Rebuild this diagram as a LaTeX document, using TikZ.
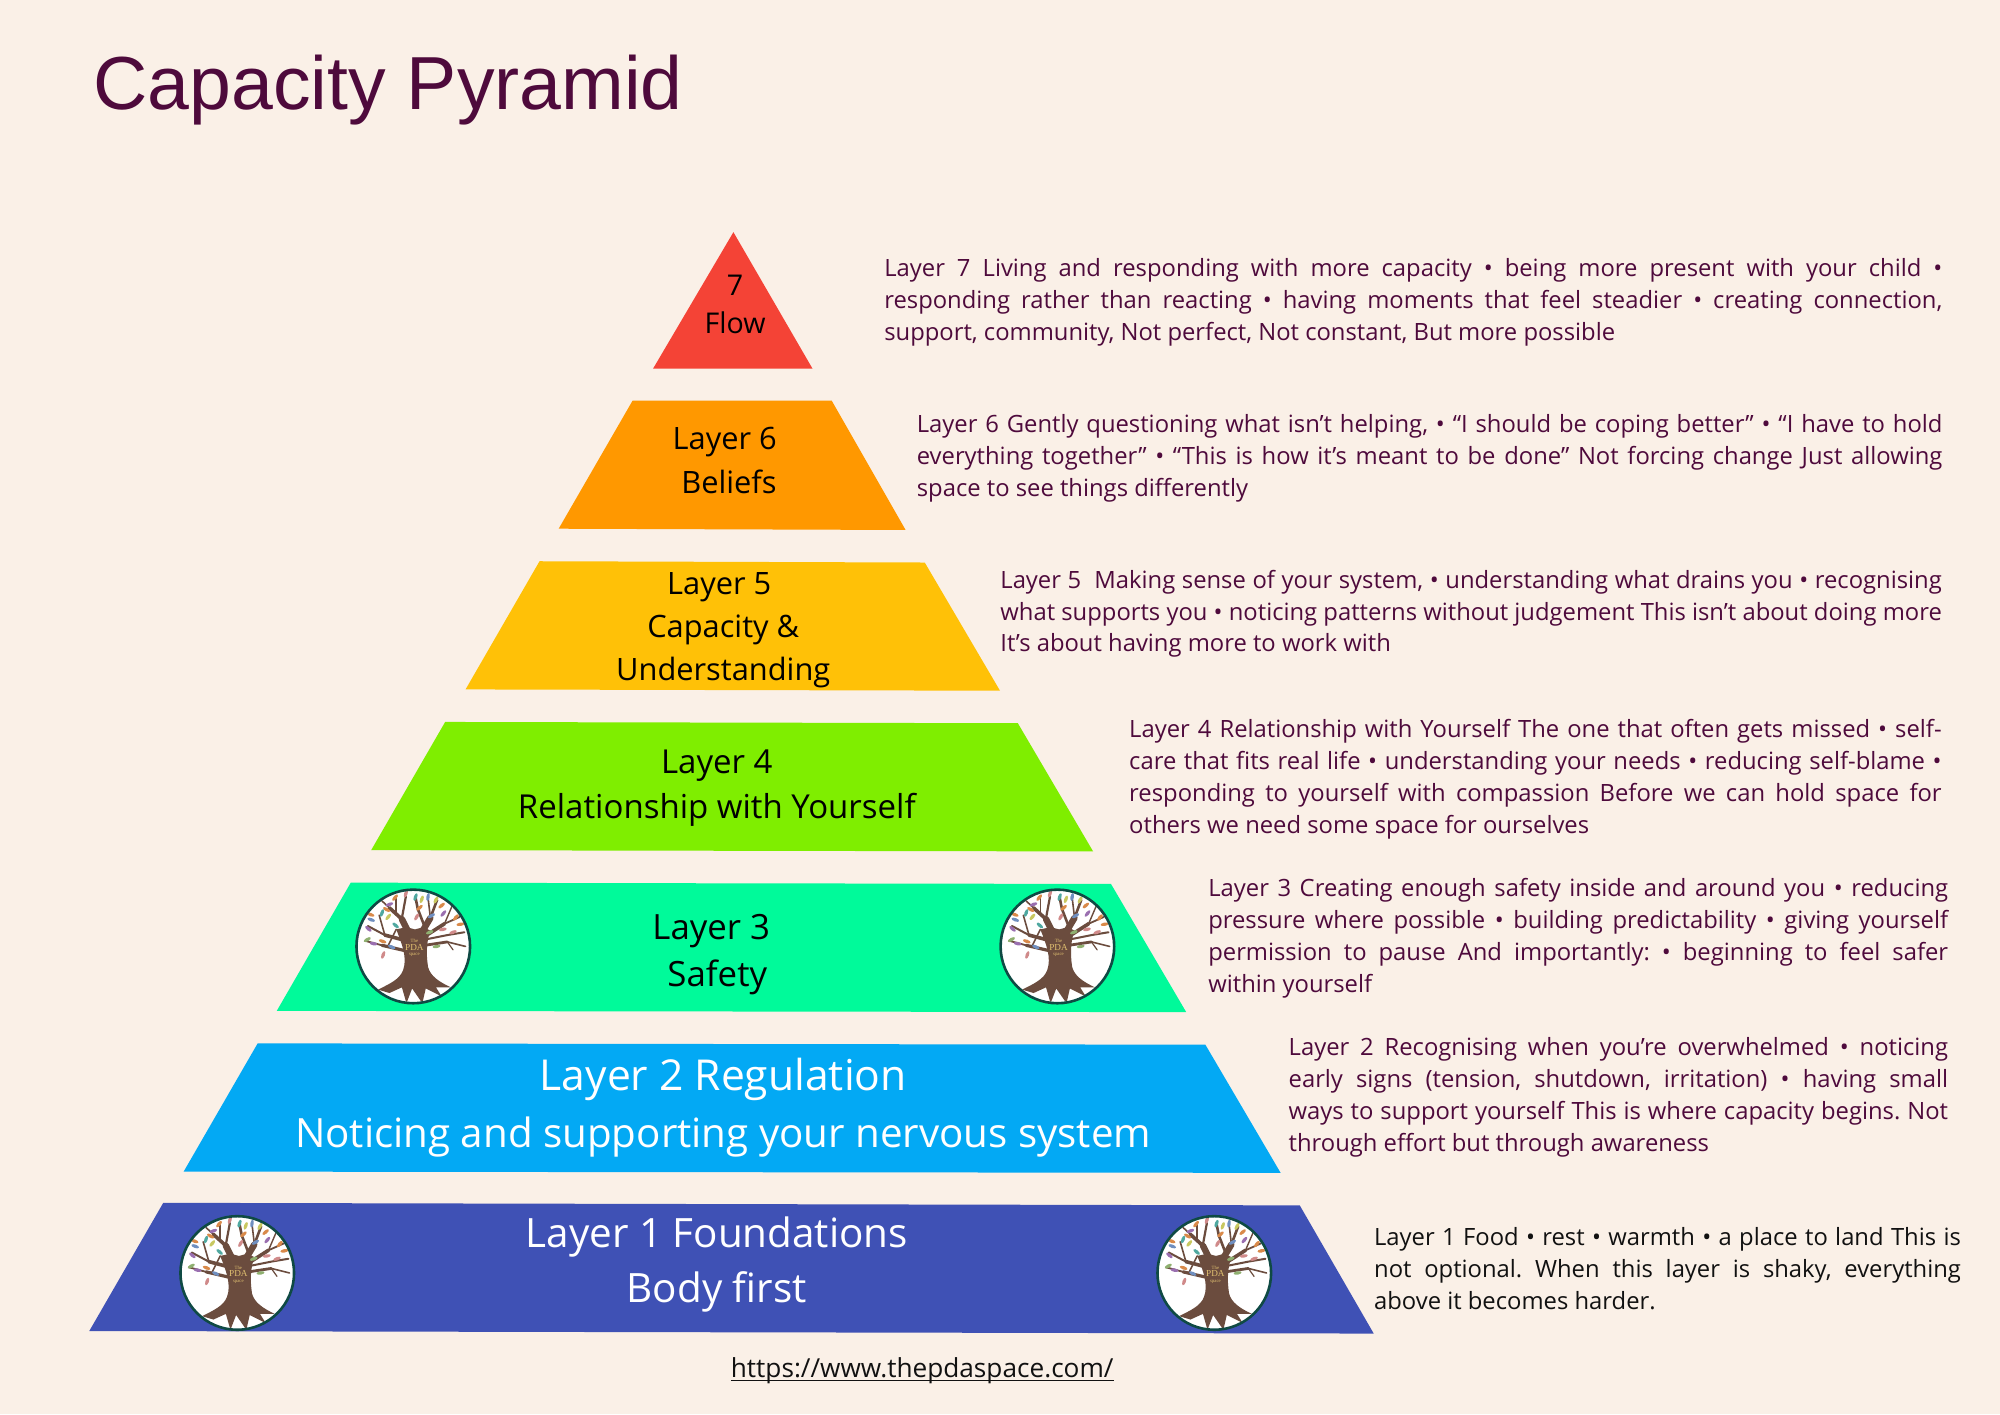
\documentclass[tikz,border=0pt]{standalone}
\usepackage{fontspec}
\setmainfont{Open Sans}
\newfontfamily\titlefont{Liberation Sans}
\newfontfamily\logofont{Liberation Serif}
\usepackage{xcolor}
\definecolor{bgcream}{HTML}{FAF0E7}
\definecolor{plum}{HTML}{4E0A3C}
\definecolor{inkdark}{HTML}{111111}
\definecolor{bark}{HTML}{6B4C3E}
\definecolor{ringteal}{HTML}{0F4A44}
\definecolor{logogold}{HTML}{E0C070}
\definecolor{cF}{HTML}{F44336}
\definecolor{cE}{HTML}{FF9800}
\definecolor{cD}{HTML}{FFC107}
\definecolor{cC}{HTML}{7FEE00}
\definecolor{cB}{HTML}{00FA9A}
\definecolor{cA}{HTML}{03A9F4}
\definecolor{cZ}{HTML}{3F51B5}
\definecolor{lfV}{HTML}{9A6FB0}
\definecolor{lfO}{HTML}{D98A4A}
\definecolor{lfT}{HTML}{4FA8A0}
\definecolor{lfY}{HTML}{C8C860}
\definecolor{lfB}{HTML}{6F8FC0}
\definecolor{lfG}{HTML}{8FB070}
\definecolor{lfP}{HTML}{D08A8A}
\tolerance=9999
\hyphenpenalty=10000
\frenchspacing
\newcommand{\snugline}[1]{\setbox0\hbox{#1}\rlap{\vrule width\wd0 height -1.2pt depth 1.9pt}\box0}
\tikzset{
  x=0.63775pt,y=-0.63775pt,
  layerlabel/.style={inner sep=0pt,align=center,text=black},
  layerlight/.style={layerlabel,text=white},
  sidetext/.style={inner sep=0pt,anchor=north west,align=justify,text=plum,font=\fontsize{11.9}{15.94}\selectfont},
  pics/pdalogo/.style={code={
    \begin{scope}[x=28.4pt,y=28.4pt]
      \fill[white] (0,0) circle (1);
      \begin{scope}
        \clip (0,0) circle (.98);
        \begin{scope}[draw=bark,line cap=round,line join=round]
          \draw[line width=3.2pt] (-.06,.2) -- (-.2,.48);
          \draw[line width=1.8pt] (-.2,.48) -- (-.42,.68);
          \draw[line width=1.1pt] (-.2,.5) -- (-.13,.88);
          \draw[line width=.8pt] (-.42,.68) -- (-.55,.8);
          \draw[line width=.8pt] (-.3,.6) -- (-.3,.85);
          \draw[line width=1.8pt] (-.12,.1) -- (-.5,.2);
          \draw[line width=1pt] (-.5,.2) -- (-.8,.36);
          \draw[line width=.8pt] (-.5,.2) -- (-.6,.55);
          \draw[line width=1.6pt] (-.12,-.08) -- (-.55,.02);
          \draw[line width=.9pt] (-.55,.02) -- (-.85,.1);
          \draw[line width=.8pt] (-.45,0) -- (-.3,.3);
          \draw[line width=3.2pt] (.12,.2) -- (.3,.5);
          \draw[line width=1.3pt] (.3,.5) -- (.42,.82);
          \draw[line width=1.3pt] (.2,.35) -- (.08,.66) -- (.04,.86);
          \draw[line width=.8pt] (.3,.52) -- (.26,.86);
          \draw[line width=1.8pt] (.16,.15) -- (.55,.4);
          \draw[line width=.9pt] (.55,.4) -- (.82,.52);
          \draw[line width=1pt] (.2,.12) -- (.6,.2) -- (.9,.25);
          \draw[line width=1.4pt] (.2,.02) -- (.6,.08);
          \draw[line width=.8pt] (.6,.08) -- (.92,.0);
          \draw[line width=.6pt] (.6,.08) -- (.7,-.06);
          \draw[line width=.7pt] (.55,.4) -- (.7,.75);
        \end{scope}
        \fill[bark] (-.3,.3) .. controls (-.2,.05) and (-.1,-.2) .. (-.18,-.42)
          .. controls (-.24,-.58) and (-.42,-.66) .. (-.62,-.76)
          -- (-.42,-.82) -- (-.2,-.72) -- (-.12,-1) -- (-.02,-.74) -- (.16,-1) -- (.22,-.74) -- (.5,-.88) -- (.4,-.72) -- (.66,-.72)
          .. controls (.45,-.62) and (.3,-.52) .. (.26,-.36)
          .. controls (.22,-.1) and (.24,.1) .. (.3,.28) -- (.18,.34) -- (.03,.3) -- (-.12,.34) -- cycle;
        \foreach \lx/\ly/\lc/\la in {-.42/.74/lfV/20,-.32/.86/lfO/50,-.13/.93/lfP/70,.04/.87/lfT/70,.15/.83/lfY/70,.26/.87/lfB/80,.4/.82/lfY/60,.5/.72/lfO/40,.53/.58/lfV/50,.32/.54/lfB/30,.11/.68/lfO/40,.06/.52/lfP/60,-.47/.65/lfO/-30,-.55/.59/lfT/70,-.44/.52/lfY/50,-.75/.56/lfO/-20,-.74/.47/lfB/-20,-.79/.31/lfV/-40,-.31/.37/lfT/-40,-.81/.12/lfG/30,-.7/.05/lfV/-10,-.54/.09/lfO/-20,-.38/-.01/lfB/-25,-.53/-.15/lfP/70,.75/.51/lfO/50,.83/.39/lfO/10,.7/.25/lfP/20,.52/.3/lfP/10,.29/.25/lfG/20,.41/0/lfG/10}
          \fill[\lc,rotate around={\la:(\lx,\ly)}] (\lx,\ly) ellipse (.07 and .03);
      \end{scope}
      \node[inner sep=0pt,text=logogold,align=center,font=\logofont\fontsize{2.4}{3}\selectfont] (-lbl) at (.02,-.03) {The\\[-.3pt]{\fontsize{4.6}{4.6}\selectfont PDA}\\[-.3pt]space};
      \draw[ringteal,line width=1.3pt] (0,0) circle (1);
    \end{scope}
  }}
}
\begin{document}
\begin{tikzpicture}
\fill[bgcream] (0,0) rectangle (1568,1108.6);
\useasboundingbox (0,0) rectangle (1568,1108.6);

\node[inner sep=0pt,anchor=base west,text=plum,font=\titlefont\fontsize{37.6}{40}\selectfont] (title) at (73,86) {Capacity Pyramid};

\fill[cF] (575,182) -- (637,289) -- (512,289) -- cycle;
\fill[cE] (496,314) -- (652,314) -- (710,415.5) -- (438,414.5) -- cycle;
\fill[cD] (423,440) -- (725,441) -- (784,541.5) -- (365,540.5) -- cycle;
\fill[cC] (349,566) -- (798,567) -- (857,667.5) -- (291,666.5) -- cycle;
\fill[cB] (275,692) -- (871,693) -- (930,793.5) -- (217,792.5) -- cycle;
\fill[cA] (202,818) -- (945,819) -- (1004,919.5) -- (144,918.5) -- cycle;
\fill[cZ] (128,943) -- (1019,945) -- (1077,1045.5) -- (70,1043.5) -- cycle;

\pic (logoa) at (324,742) {pdalogo};
\pic (logob) at (829,742) {pdalogo};
\pic (logoc) at (186,998) {pdalogo};
\pic (logod) at (952,998) {pdalogo};

\node[layerlabel,font=\fontsize{14.3}{19}\selectfont] (l7) at (576.3,239) {7\\Flow};
\node[layerlabel,font=\fontsize{15.4}{21.6}\selectfont] (l6) at (569.5,361) {Layer 6\hspace*{1.7pt}\\\hspace*{2.5pt}Beliefs};
\node[layerlabel,font=\fontsize{15.4}{21.6}\selectfont] (l5) at (567,494) {Layer 5\hspace*{4pt}\\Capacity \&\hspace*{7pt}\\Understanding};
\node[layerlabel,font=\fontsize{16.5}{22.5}\selectfont] (l4) at (562,617.5) {Layer 4\\Relationship with Yourself};
\node[layerlabel,font=\fontsize{17.4}{23.6}\selectfont] (l3) at (560,748.5) {Layer 3\hspace*{3pt}\\\hspace*{3pt}Safety};
\node[layerlight,font=\fontsize{21.3}{28.7}\selectfont] (l2) at (567,868.5) {Layer 2 Regulation\\{\fontsize{20.15}{28.7}\selectfont Noticing and supporting your nervous system}};
\node[layerlight,font=\fontsize{20.2}{27.4}\selectfont] (l1) at (562,991.5) {Layer 1 Foundations\\Body first};

\node[sidetext,text width=529pt] (t7) at (693,202.5) {Layer 7 Living and responding with more capacity • being more present with your child •\linebreak responding rather than reacting • having moments that feel steadier • creating connection,\linebreak support, community, Not perfect, Not constant, But more possible};
\node[sidetext,text width=512.8pt] (t6) at (718.5,324.5) {Layer 6 Gently questioning what isn’t helping, • “I should be coping better” • “I have to hold\linebreak everything together” • “This is how it’s meant to be done” Not forcing change Just allowing\linebreak space to see things differently};
\node[sidetext,text width=470.7pt] (t5) at (784,446.5) {Layer 5 \ Making sense of your system, • understanding what drains you • recognising\linebreak what supports you • noticing patterns without judgement This isn’t about doing more\linebreak It’s about having more to work with};
\node[sidetext,text width=406.2pt] (t4) at (885,563.5) {Layer 4 Relationship with Yourself The one that often gets missed • self-\linebreak care that fits real life • understanding your needs • reducing self-blame •\linebreak responding to yourself with compassion Before we can hold space for\linebreak others we need some space for ourselves};
\node[sidetext,text width=369.9pt] (t3) at (947,688.3) {Layer 3 Creating enough safety inside and around you • reducing\linebreak pressure where possible • building predictability • giving yourself\linebreak permission to pause And importantly: • beginning to feel safer\linebreak within yourself};
\node[sidetext,text width=329.7pt] (t2) at (1010,813) {Layer 2 Recognising when you’re overwhelmed • noticing\linebreak early signs (tension, shutdown, irritation) • having small\linebreak ways to support yourself This is where capacity begins. Not\linebreak through effort but through awareness};
\node[sidetext,text=inkdark,text width=293.4pt] (t1) at (1077,962) {Layer 1 Food • rest • warmth • a place to land This is\linebreak not optional. When this layer is shaky, everything\linebreak above it becomes harder.};

\node[inner sep=0pt,text=inkdark,font=\fontsize{13.1}{16}\selectfont] (link) at (723,1074.5) {\snugline{https://www.thepdaspace.com/}};
\end{tikzpicture}
\end{document}
